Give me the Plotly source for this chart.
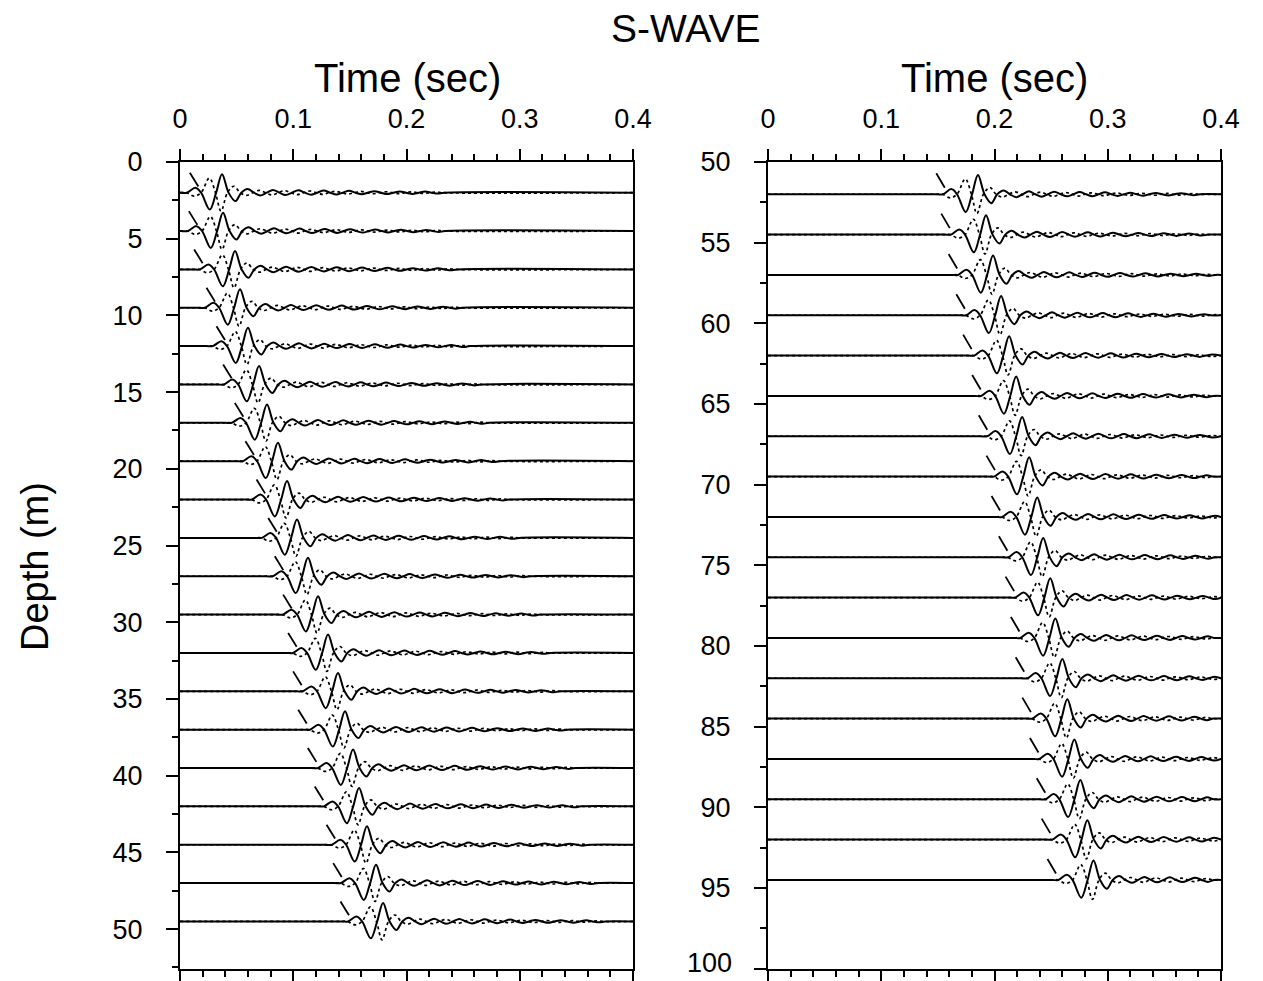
import plotly.graph_objects as go

W, H = 1247, 973   # page is offset by the 8px body margin of the html page
OFF = 8


def px(x):
    return (x - OFF) / W


def py(y):
    return 1 - (y - OFF) / H


# ---------------- data ----------------
left_depths = [2, 4.5, 7, 9.5, 12, 14.5, 17, 19.5, 22, 24.5,
               27, 29.5, 32, 34.5, 37, 39.5, 42, 44.5, 47, 49.5]
left_peak_times = [0.0371, 0.0380, 0.0486, 0.0530, 0.0600, 0.0698, 0.0768, 0.0865, 0.0945, 0.1033,
                   0.1130, 0.1219, 0.1307, 0.1395, 0.1457, 0.1528, 0.1581, 0.1651, 0.1731, 0.1793]
left_pick_times = [0.0162, 0.0153, 0.0200, 0.0309, 0.0397, 0.0456, 0.0559, 0.0653, 0.0751, 0.0854,
                   0.0912, 0.0986, 0.1030, 0.1074, 0.1119, 0.1204, 0.1265, 0.1369, 0.1428, 0.1492]

right_depths = [52, 54.5, 57, 59.5, 62, 64.5, 67, 69.5, 72, 74.5,
                77, 79.5, 82, 84.5, 87, 89.5, 92, 94.5]
right_peak_times = [0.1854, 0.1925, 0.1987, 0.2058, 0.2129, 0.2191, 0.2244, 0.2306, 0.2377, 0.2430,
                    0.2492, 0.2537, 0.2599, 0.2643, 0.2705, 0.2758, 0.2820, 0.2874]
right_pick_times = [0.1561, 0.1605, 0.1670, 0.1738, 0.1798, 0.1878, 0.1936, 0.2004, 0.2049, 0.2114,
                    0.2173, 0.2220, 0.2262, 0.2321, 0.2388, 0.2448, 0.2492, 0.2543]

left_tick_vals = [0, 5, 10, 15, 20, 25, 30, 35, 40, 45, 50]
right_tick_vals = [50, 55, 60, 65, 70, 75, 80, 85, 90, 95, 100]
right_tick_text = ["50", "55", "60", "65", "70", "75", "80", "85", "90", "95", ""]
bottom_label = "100"

# wavelet key points relative to the solid main peak (sec, metres of deflection, + = up)
solid_dt = [-0.037, -0.031, -0.0235, -0.0185, -0.0108, -0.0052, 0.0, 0.0058, 0.0118, 0.0170]
solid_amp = [0.0, 0.0, 0.32, 0.0, -1.10, 0.0, 1.20, 0.0, -0.55, 0.0]
dotted_dt = [-0.038, -0.0315, -0.0245, -0.0185, -0.0112, -0.0058, -0.0009, 0.0048, 0.0105, 0.0160]
dotted_amp = [0.0, 0.0, -0.22, 0.0, 0.95, 0.0, -1.20, 0.0, 0.42, 0.0]
# low-amplitude ringing after the main arrival (half-cycle extremes)
solid_tail = [0.24, -0.18, 0.18, -0.15, 0.16, -0.13, 0.14, -0.12, 0.12, -0.10, 0.10, -0.09,
              0.08, -0.08, 0.07, -0.06]
dotted_tail = [-0.18, 0.15, -0.15, 0.13, -0.13, 0.11, -0.11, 0.09, -0.09, 0.08, -0.07, 0.06,
               -0.06, 0.05, -0.05, 0.04]

TMAX = 0.4
HALF = 0.0112


def build(tp, depth, dts, amps, tail):
    xs, ys = [0.0], [depth]
    for dt, a in zip(dts, amps):
        xs.append(tp + dt)
        ys.append(depth - a)
    t0 = tp + dts[-1]
    for k, a in enumerate(tail):
        xs.append(t0 + (k + 0.5) * HALF)
        ys.append(depth - a)
        xs.append(t0 + (k + 1) * HALF)
        ys.append(depth)
    keep = [(x, y) for x, y in zip(xs, ys) if 0.0 <= x < TMAX - 0.004]
    xs = [p[0] for p in keep] + [TMAX]
    ys = [p[1] for p in keep] + [depth]
    return xs, ys


fig = go.Figure()

panels = [
    ("x", "y", left_depths, left_peak_times, left_pick_times),
    ("x2", "y2", right_depths, right_peak_times, right_pick_times),
]

for xa, ya, depths, peaks, picks in panels:
    for d, tp, tk in zip(depths, peaks, picks):
        xs, ys = build(tp, d, dotted_dt, dotted_amp, dotted_tail)
        fig.add_trace(go.Scatter(x=xs, y=ys, mode="lines", xaxis=xa, yaxis=ya,
                                 line=dict(color="black", width=1.7, dash="dot",
                                           shape="spline", smoothing=1.0),
                                 hoverinfo="skip"))
        xs, ys = build(tp, d, solid_dt, solid_amp, solid_tail)
        fig.add_trace(go.Scatter(x=xs, y=ys, mode="lines", xaxis=xa, yaxis=ya,
                                 line=dict(color="black", width=2.0,
                                           shape="spline", smoothing=1.0),
                                 hoverinfo="skip"))
        # first-arrival pick mark
        fig.add_trace(go.Scatter(x=[tk - 0.0075, tk], y=[d - 1.3, d - 0.4], mode="lines",
                                 xaxis=xa, yaxis=ya,
                                 line=dict(color="black", width=1.8), hoverinfo="skip"))

FONT = "Liberation Sans, Arial, sans-serif"
ydom = [py(969), py(162)]

xcommon = dict(range=[0, 0.4], side="top", tickmode="linear", tick0=0, dtick=0.1,
               ticks="outside", ticklen=11, tickwidth=2, tickcolor="black",
               showline=True, linewidth=2, linecolor="black", mirror="ticks",
               showgrid=False, zeroline=False, automargin=False,
               tickfont=dict(size=27, family=FONT, color="black"),
               ticklabelstandoff=10, ticklabeloverflow="allow",
               minor=dict(dtick=0.02, ticks="outside", ticklen=6, tickwidth=2,
                          tickcolor="black", showgrid=False))
ycommon = dict(ticks="outside", ticklen=12, tickwidth=2, tickcolor="black",
               showline=True, linewidth=2, linecolor="black", mirror=True,
               showgrid=False, zeroline=False, automargin=False,
               tickfont=dict(size=27, family=FONT, color="black"),
               ticklabelstandoff=18, ticklabeloverflow="allow",
               minor=dict(dtick=2.5, ticks="outside", ticklen=6, tickwidth=2,
                          tickcolor="black", showgrid=False))

fig.update_layout(
    template="none",
    width=W, height=H,
    margin=dict(l=0, r=0, t=0, b=0, autoexpand=False),
    plot_bgcolor="white", paper_bgcolor="white",
    showlegend=False,
    font=dict(family=FONT, color="black"),
    xaxis=dict(domain=[px(180), px(633)], anchor="y", **xcommon),
    yaxis=dict(domain=ydom, anchor="x", range=[52.6, 0], tickmode="array",
               tickvals=left_tick_vals, **ycommon),
    xaxis2=dict(domain=[px(768), px(1221)], anchor="y2", **xcommon),
    yaxis2=dict(domain=ydom, anchor="x2", range=[100.02, 50], tickmode="array",
                tickvals=right_tick_vals, ticktext=right_tick_text, **ycommon),
    annotations=[
        dict(text="S-WAVE", x=px(686), y=py(29), xref="paper", yref="paper",
             xanchor="center", yanchor="middle", showarrow=False,
             font=dict(size=39, family=FONT, color="black")),
        dict(text="Time (sec)", x=px(407), y=py(78), xref="paper", yref="paper",
             xanchor="center", yanchor="middle", showarrow=False,
             font=dict(size=40, family=FONT, color="black")),
        dict(text="Time (sec)", x=px(995), y=py(78), xref="paper", yref="paper",
             xanchor="center", yanchor="middle", showarrow=False,
             font=dict(size=40, family=FONT, color="black")),
        dict(text="Depth (m)", x=px(35), y=py(567), xref="paper", yref="paper",
             xanchor="center", yanchor="middle", showarrow=False, textangle=-90,
             font=dict(size=38, family=FONT, color="black")),
        dict(text=bottom_label, x=px(734), y=py(963), xref="paper", yref="paper",
             xanchor="right", yanchor="middle", showarrow=False,
             font=dict(size=27, family=FONT, color="black")),
    ],
)

fig.write_html("out.html")
